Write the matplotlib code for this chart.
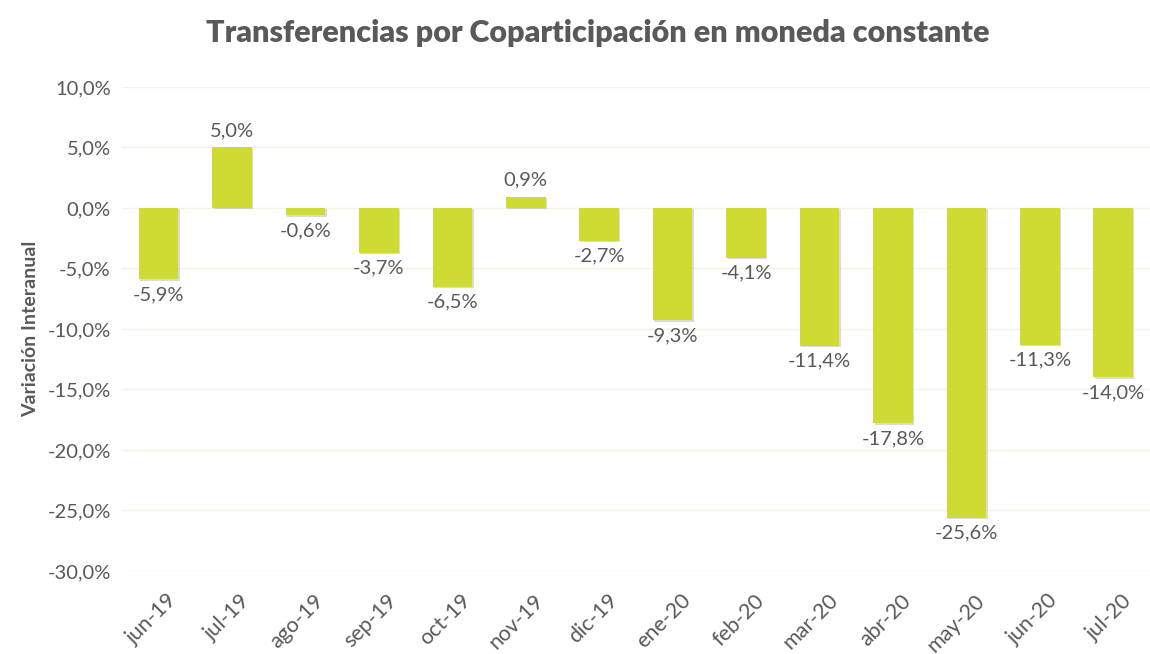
import matplotlib
matplotlib.use("Agg")
import matplotlib.pyplot as plt
import matplotlib.patheffects as pe
import matplotlib.transforms as mtransforms
from matplotlib.ticker import FuncFormatter

categories = ["jun-19", "jul-19", "ago-19", "sep-19", "oct-19", "nov-19", "dic-19",
              "ene-20", "feb-20", "mar-20", "abr-20", "may-20", "jun-20", "jul-20"]
values = [-5.9, 5.0, -0.6, -3.7, -6.5, 0.9, -2.7, -9.3, -4.1, -11.4, -17.8, -25.6, -11.3, -14.0]

plt.rcParams['font.family'] = ['Lato', 'DejaVu Sans']
text_color = "#595959"
bar_color = "#CEDB33"

fig = plt.figure(figsize=(11.5, 6.54), dpi=100)
ax = fig.add_axes([0.106, 0.127, 0.894, 0.74])

x = list(range(len(categories)))
bars = ax.bar(x, values, width=0.54, color=bar_color, zorder=3)
for b in bars:
    b.set_path_effects([pe.SimplePatchShadow(offset=(1.0, -1.0), shadow_rgbFace="#999999", alpha=0.35), pe.Normal()])

ax.set_ylim(-30, 10)
ax.set_xlim(-0.5, len(categories) - 0.5)
ax.set_yticks([10, 5, 0, -5, -10, -15, -20, -25, -30])
ax.yaxis.set_major_formatter(FuncFormatter(lambda v, p: f"{v:.1f}%".replace(".", ",")))
ax.grid(axis="y", color="#F3F3E4", linewidth=1, zorder=0)
ax.set_axisbelow(True)
for s in ax.spines.values():
    s.set_visible(False)
ax.tick_params(axis="y", length=0, labelsize=14.5, colors=text_color, pad=8)
ax.set_xticks(x)
ax.set_xticklabels(categories, rotation=45, ha="right", rotation_mode="anchor")
ax.tick_params(axis="x", length=0, labelsize=15.5, colors=text_color, pad=14)
offset = mtransforms.ScaledTranslation(0.08, 0, fig.dpi_scale_trans)
for t in ax.get_xticklabels():
    t.set_transform(t.get_transform() + offset)

for xi, v in zip(x, values):
    lbl = f"{v:.1f}%".replace(".", ",")
    if v >= 0:
        ax.annotate(lbl, (xi, v), xytext=(0, 6), textcoords="offset points",
                    ha="center", va="bottom", fontsize=14.5, color=text_color)
    else:
        ax.annotate(lbl, (xi, v), xytext=(0, -5), textcoords="offset points",
                    ha="center", va="top", fontsize=14.5, color=text_color)

ax.set_ylabel("Variación Interanual", fontsize=14, fontweight="bold", color=text_color, labelpad=6)
fig.text(0.52, 0.95, "Transferencias por Coparticipación en moneda constante",
         ha="center", va="center", fontsize=22, fontweight="heavy", color=text_color)

fig.savefig("out.png", dpi=100)
